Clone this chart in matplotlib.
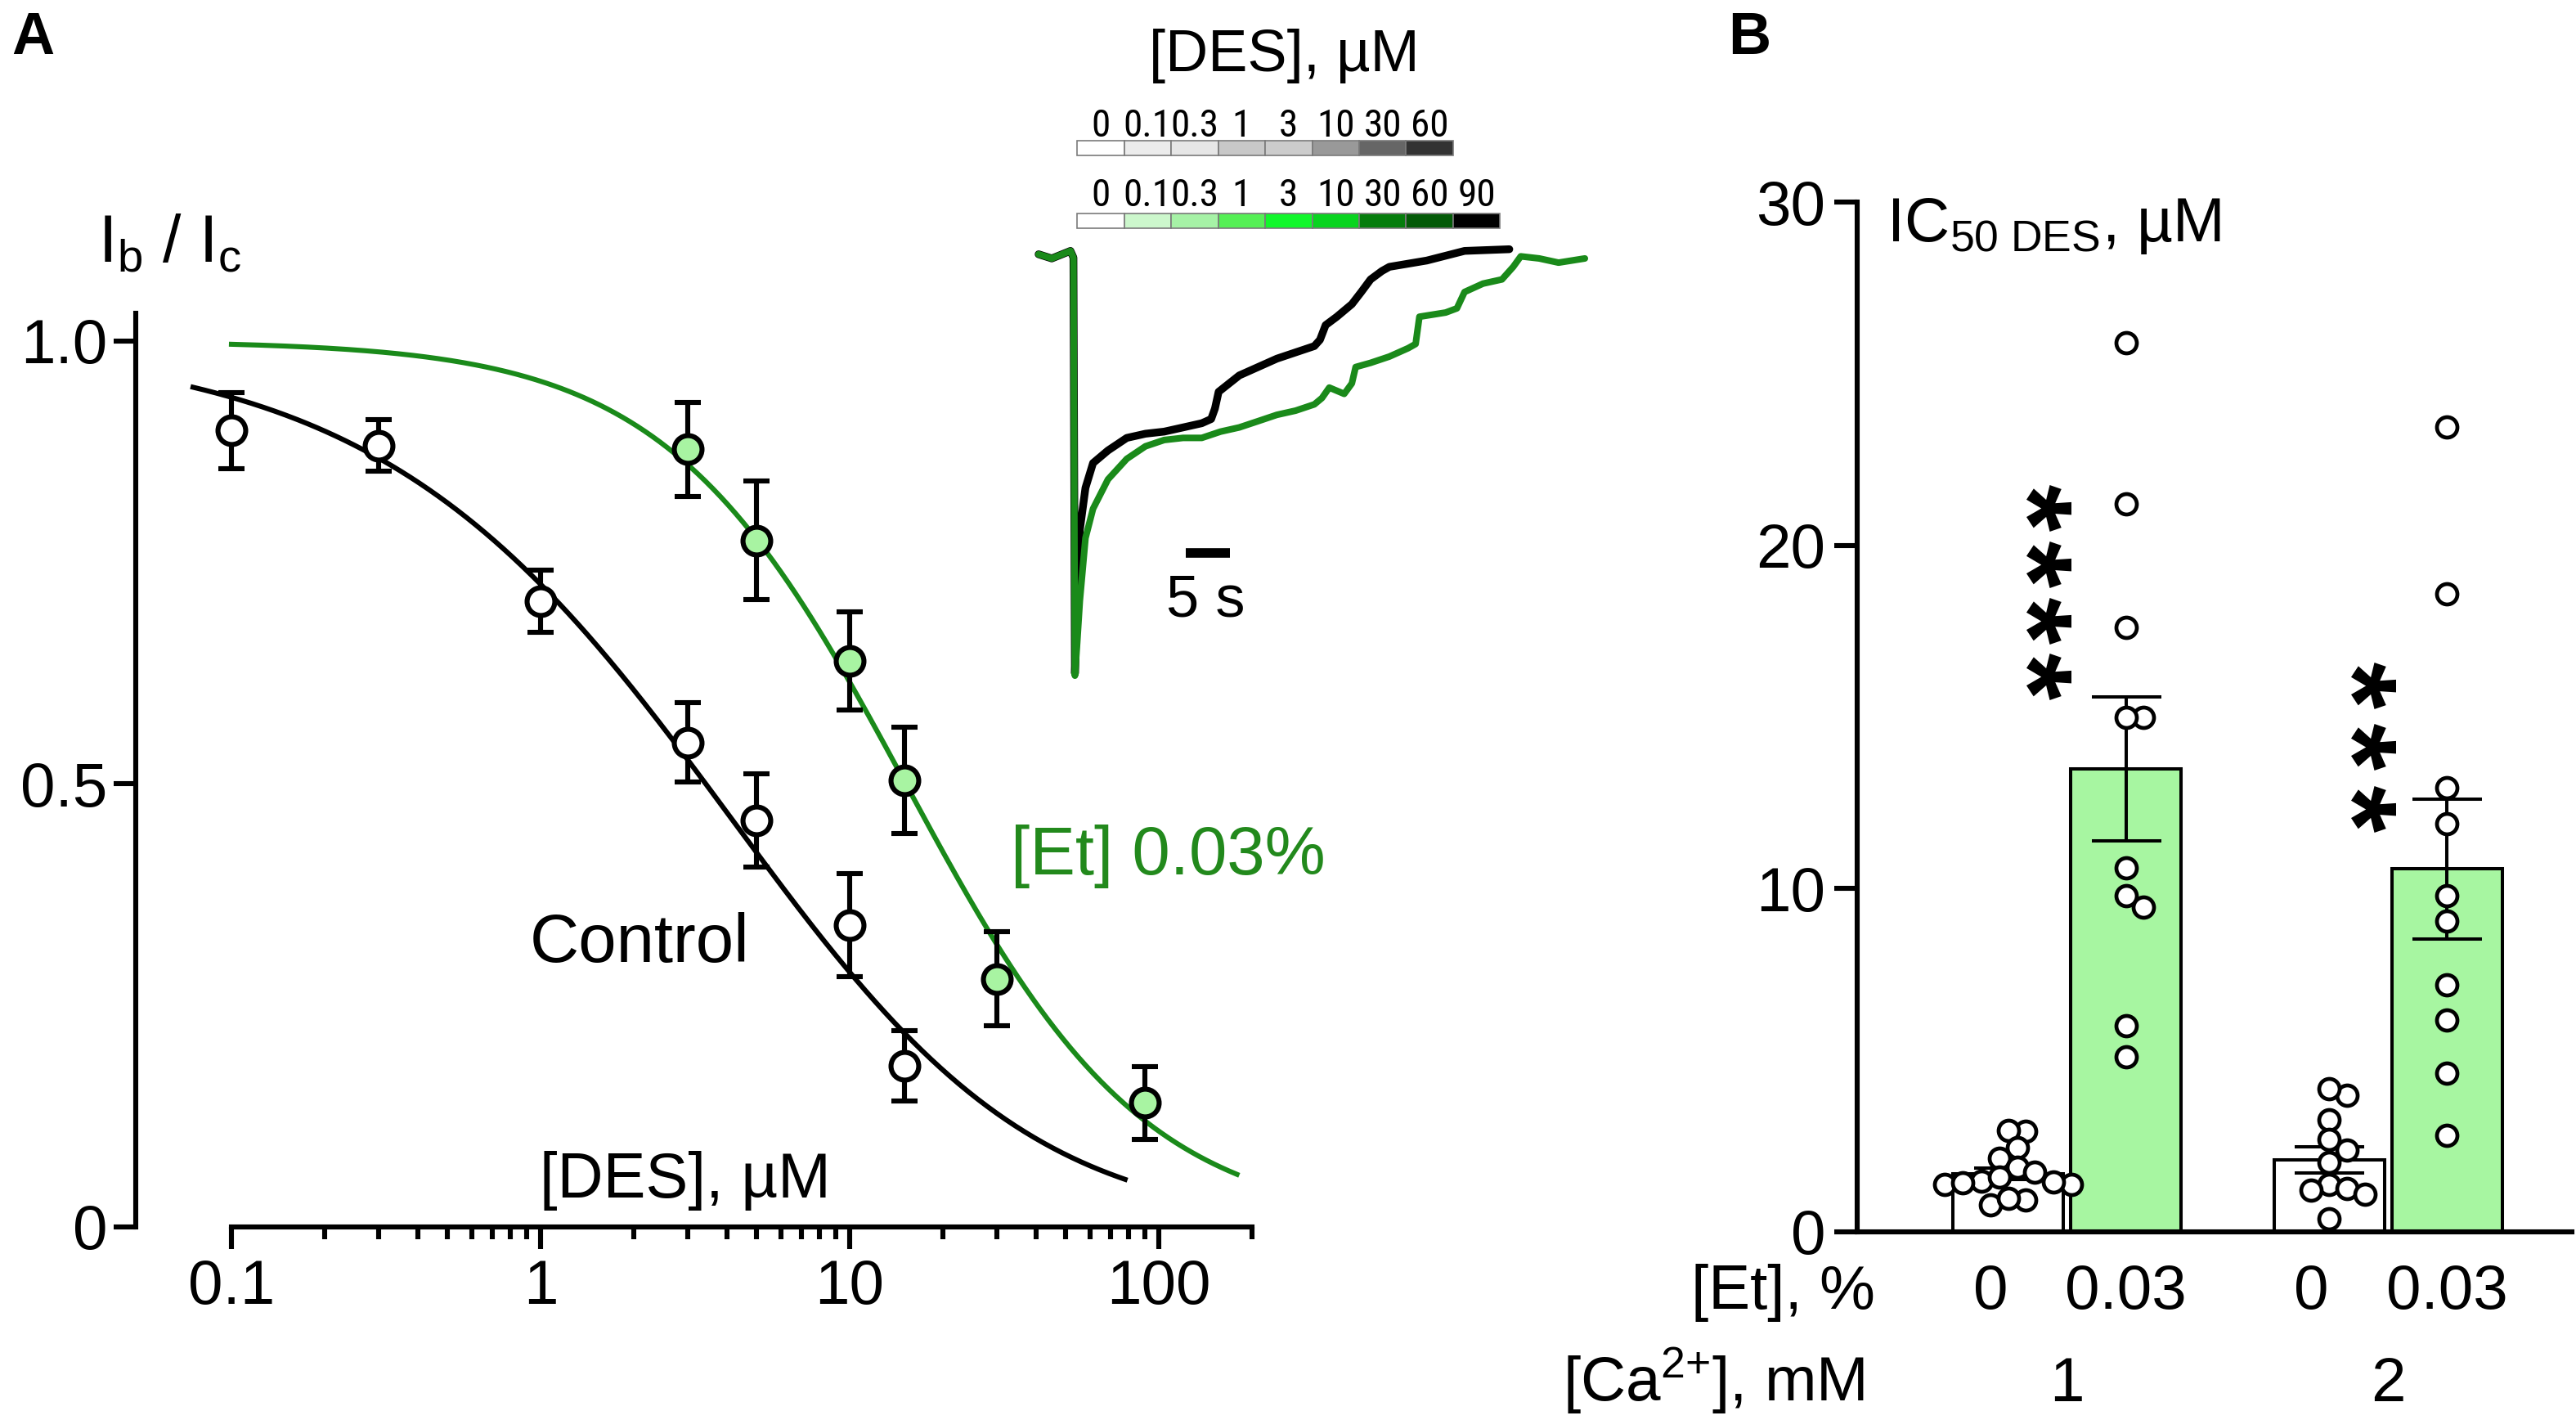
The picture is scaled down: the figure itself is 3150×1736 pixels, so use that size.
import os
import numpy as np
import matplotlib
matplotlib.use("Agg")
import matplotlib.pyplot as plt
import matplotlib.ticker as mticker
from matplotlib import font_manager as fm
from matplotlib.font_manager import FontProperties
from matplotlib.textpath import TextPath
from matplotlib.path import Path
from matplotlib.markers import MarkerStyle
from matplotlib.transforms import blended_transform_factory

# ----------------------------- DATA -----------------------------
# Panel A: concentration-response (Ib/Ic vs [DES], uM)
ctrl_conc = [0.1, 0.3, 1, 3, 5, 10, 15]
ctrl_resp = [0.899, 0.882, 0.706, 0.547, 0.459, 0.341, 0.182]
ctrl_err = [0.043, 0.029, 0.035, 0.045, 0.053, 0.058, 0.040]
et_conc = [3, 5, 10, 15, 30, 90]
et_resp = [0.878, 0.775, 0.639, 0.504, 0.280, 0.140]
et_err = [0.053, 0.067, 0.055, 0.060, 0.053, 0.041]

# fitted curves (parameters read from the drawn fits)
ctrl_K, ctrl_n, ctrl_m = 7.97, 0.725, 1.6
ctrl_range = [0.0751, 77.8]
et_K, et_n = 15.2, 1.12
et_range = [0.1, 179.0]

a_xticks = [0.1, 1, 10, 100]
a_xticklabels = ["0.1", "1", "10", "100"]
a_yticks = [0, 0.5, 1.0]
a_yticklabels = ["0", "0.5", "1.0"]

# Inset: application protocol and current traces
des_gray_labels = ["0", "0.1", "0.3", "1", "3", "10", "30", "60"]
des_green_labels = ["0", "0.1", "0.3", "1", "3", "10", "30", "60", "90"]
gray_colors = ["#ffffff", "#ececec", "#e6e6e6", "#c8c8c8", "#cccccc",
               "#999999", "#666666", "#333333"]
green_colors = ["#ffffff", "#ccf7cc", "#a6f2a6", "#55f055", "#11f72b",
                "#08d41f", "#057d0c", "#035a07", "#000000"]

black_t = [0, 1.5, 3.63, 3.97, 4.14, 4.40, 4.70, 5.34, 6.2, 7.9, 10.04, 12.17,
           14.3, 16.45, 18.58, 19.65, 20.08, 20.5, 22.85, 27.13, 31.4, 32.04,
           32.68, 33.96, 35.67, 36.74, 37.8, 39.09, 39.94, 44.2, 48.5, 53.6]
black_i = [0.005, -0.005, 0.013, -0.003, -0.995, -0.80, -0.652, -0.552, -0.493,
           -0.463, -0.433, -0.423, -0.418, -0.408, -0.398, -0.388, -0.363,
           -0.323, -0.284, -0.244, -0.214, -0.199, -0.164, -0.144, -0.114,
           -0.085, -0.055, -0.035, -0.025, -0.010, 0.013, 0.017]
green_t = [0, 1.5, 3.63, 3.97, 4.14, 4.40, 4.70, 5.34, 6.2, 7.9, 10.04, 12.17,
           14.3, 16.45, 18.58, 20.72, 22.85, 25.0, 27.13, 29.26, 31.4, 32.26,
           33.1, 34.8, 35.67, 36.1, 37.8, 39.94, 42.08, 42.93, 43.36, 46.35,
           47.63, 48.5, 50.6, 52.76, 54.04, 54.9, 57.0, 59.2, 62.2]
green_i = [0.005, -0.005, 0.013, -0.003, -1.0, -0.92, -0.821, -0.672, -0.602,
           -0.532, -0.483, -0.453, -0.438, -0.433, -0.433, -0.418, -0.408,
           -0.393, -0.378, -0.368, -0.353, -0.338, -0.313, -0.328, -0.303,
           -0.264, -0.254, -0.239, -0.219, -0.209, -0.144, -0.134, -0.124,
           -0.085, -0.065, -0.055, -0.025, 0.0, -0.005, -0.015, -0.005]
scale_bar_s = 5

# Panel B: IC50 of DES (uM)
et_row_labels = ["0", "0.03", "0", "0.03"]
ca_group_labels = ["1", "2"]
bar_means = [1.70, 13.49, 2.10, 10.57]
bar_sem = [0.17, 2.10, 0.38, 2.04]
pts_ca1_et0 = [2.93, 2.96, 2.46, 2.15, 1.89, 1.75, 1.38, 1.38, 1.45, 1.48,
               1.59, 1.44, 0.78, 0.94, 0.98]
pts_ca1_et3 = [25.9, 21.2, 17.6, 15.0, 15.0, 10.6, 9.8, 9.45, 6.0, 5.1]
pts_ca2_et0 = [3.97, 4.18, 3.26, 2.70, 2.38, 2.03, 1.38, 1.22, 1.27, 1.10, 0.37]
pts_ca2_et3 = [23.45, 18.58, 12.95, 11.88, 9.8, 9.05, 7.19, 6.18, 4.62, 2.8]
star_counts = [4, 3]
b_yticks = [0, 10, 20, 30]

# ----------------------------- STYLE -----------------------------
def has_font(name):
    try:
        fm.findfont(FontProperties(family=name), fallback_to_default=False)
        return True
    except Exception:
        return False


def find_condensed():
    # look for an installed narrow / condensed sans face
    for fam in ["Liberation Sans Narrow", "Roboto Condensed",
                "Noto Sans Condensed", "Open Sans Condensed"]:
        if has_font(fam):
            return FontProperties(family=fam)
    for fam in ["Noto Sans", "Roboto", "Open Sans"]:
        for st in ["condensed", "semi-condensed"]:
            try:
                fp = FontProperties(family=fam, stretch=st)
                f = fm.findfont(fp, fallback_to_default=False)
                name = os.path.basename(f).lower()
                if "condensed" in name or "narrow" in name:
                    return FontProperties(fname=f)
            except Exception:
                pass
    return None


MAIN = "Liberation Sans" if has_font("Liberation Sans") else "DejaVu Sans"
COND = find_condensed()

plt.rcParams["font.family"] = [MAIN, "DejaVu Sans"]
plt.rcParams["mathtext.fontset"] = "custom"
plt.rcParams["mathtext.rm"] = MAIN
plt.rcParams["mathtext.it"] = MAIN + ":italic"
plt.rcParams["mathtext.bf"] = MAIN + ":bold"

GREEN_LINE = "#1a8a1a"
GREEN_TEXT = "#22891c"
GREEN_FILL = "#a8f4a2"
BAR_GREEN = "#a7f6a1"

W, H = 3150, 1736
DPI = 200
fig = plt.figure(figsize=(W / DPI, H / DPI), dpi=DPI)
fig.patch.set_facecolor("white")


def px_box(x0, y_top, x1, y_bot):
    return [x0 / W, 1 - y_bot / H, (x1 - x0) / W, (y_bot - y_top) / H]


def tight_label(s):
    # condensed numeric labels: pull the decimal point in
    if "." in s:
        a, b = s.split(".")
        return (r"$\mathregular{" + a + r"\hspace{-0.18}.\hspace{-0.18}"
                + b + "}$")
    return s


# ----------------------------- PANEL A -----------------------------
x0_px, dec_px = 283.0, 378.0
xmax = 200.0
y0_px, y1_px = 1500.0, 417.0
ytop = 1.05
axA = fig.add_axes(px_box(x0_px, y0_px - ytop * (y0_px - y1_px),
                          x0_px + dec_px * np.log10(xmax / 0.1), y0_px))
axA.set_xscale("log")
axA.set_xlim(0.1, xmax)
axA.set_ylim(0, ytop)
axA.patch.set_alpha(0)
for s in ["top", "right"]:
    axA.spines[s].set_visible(False)
axA.spines["left"].set_position(("outward", 117 * 72 / DPI))
axA.spines["left"].set_bounds(0, 1.031)
axA.spines["bottom"].set_bounds(0.1, xmax)
for s in ["left", "bottom"]:
    axA.spines[s].set_linewidth(2.2)

axA.set_xticks(a_xticks)
axA.set_xticklabels(a_xticklabels)
axA.xaxis.set_minor_locator(mticker.FixedLocator(
    [m * d for d in [0.1, 1, 10] for m in range(2, 10)] + [200]))
axA.xaxis.set_minor_formatter(mticker.NullFormatter())
axA.set_yticks(a_yticks)
axA.set_yticklabels(a_yticklabels)
axA.tick_params(axis="both", which="major", length=9.7, width=2.2,
                labelsize=27.5, direction="out")
axA.tick_params(axis="x", which="major", pad=4.5)
axA.tick_params(axis="y", which="major", pad=2.9)
axA.tick_params(axis="x", which="minor", length=5.4, width=2.2)

xc = np.geomspace(ctrl_range[0], ctrl_range[1], 400)
yc = (1 + (xc / ctrl_K) ** ctrl_n) ** (-ctrl_m)
axA.plot(xc, yc, color="black", lw=2.2, clip_on=False, zorder=2)
xe = np.geomspace(et_range[0], et_range[1], 400)
ye = 1 / (1 + (xe / et_K) ** et_n)
axA.plot(xe, ye, color=GREEN_LINE, lw=2.2, clip_on=False, zorder=2)

axA.errorbar(ctrl_conc, ctrl_resp, yerr=ctrl_err, fmt="o", ms=12.2, mew=2.2,
             mfc="white", mec="black", ecolor="black", elinewidth=2.2,
             capsize=5.8, capthick=2.2, clip_on=False, zorder=3)
axA.errorbar(et_conc, et_resp, yerr=et_err, fmt="o", ms=12.2, mew=2.2,
             mfc=GREEN_FILL, mec="black", ecolor="black", elinewidth=2.2,
             capsize=5.8, capthick=2.2, clip_on=False, zorder=3)

axA.text(2.096, 0.299, "Control", fontsize=30, ha="center", va="baseline")
axA.text(107, 0.398, "[Et] 0.03%", fontsize=30, ha="center", va="baseline",
         color=GREEN_TEXT)
axA.text(2.94, 0.033, "[DES], µM", fontsize=28, ha="center", va="baseline")
fig.text(120 / W, 1 - 321 / H, r"I$_\mathregular{b}$ / I$_\mathregular{c}$",
         fontsize=29, ha="left", va="baseline")
fig.text(14 / W, 1 - 66 / H, "A", fontsize=26, fontweight="bold",
         ha="left", va="baseline")

# ----------------------------- INSET -----------------------------
t_px0, px_per_s = 1270.0, 10.74
i0_px, i1_px = 313.4, 826.0
t_max = 62.5
i_lo, i_hi = -1.02, 0.05
axI = fig.add_axes(px_box(t_px0, i0_px - i_hi * (i1_px - i0_px),
                          t_px0 + t_max * px_per_s,
                          i0_px - i_lo * (i1_px - i0_px)))
axI.set_xlim(0, t_max)
axI.set_ylim(i_lo, i_hi)
axI.axis("off")
axI.plot(black_t, black_i, color="black", lw=3.4, solid_joinstyle="round",
         solid_capstyle="round", clip_on=False)
axI.plot(green_t, green_i, color=GREEN_LINE, lw=2.9, solid_joinstyle="round",
         solid_capstyle="round", clip_on=False)
axI.plot([16.8, 16.8 + scale_bar_s], [-0.707, -0.707], color="black", lw=4.2,
         solid_capstyle="butt")
axI.text(16.8 + scale_bar_s / 2 - 0.3, -0.858, f"{scale_bar_s} s", fontsize=26,
         ha="center", va="baseline")

seg_px = 57.5
c_left, c_top, c_bot = 1317.0, 171.7, 279.3
axC = fig.add_axes(px_box(c_left, c_top, c_left + 9 * seg_px, c_bot))
axC.set_xlim(0, 9)
axC.set_ylim(0, c_bot - c_top)
axC.axis("off")
gray_y0, gray_h = c_bot - 190.0, 18.3
green_y0, green_h = 0.0, 18.6
axC.bar(np.arange(len(gray_colors)) + 0.5, [gray_h] * len(gray_colors),
        bottom=gray_y0, width=1.0, color=gray_colors, edgecolor="#7a7a7a",
        linewidth=0.6, clip_on=False)
axC.bar(np.arange(len(green_colors)) + 0.5, [green_h] * len(green_colors),
        bottom=green_y0, width=1.0, color=green_colors, edgecolor="#7a7a7a",
        linewidth=0.6, clip_on=False)

if COND is not None:
    lab_kw = dict(fontproperties=COND.copy())
    lab_kw["fontproperties"].set_size(17)
else:
    lab_kw = dict(fontsize=15)
for i, lab in enumerate(des_gray_labels):
    axC.text(i + 0.5, c_bot - 166.7, lab, ha="center",
             va="baseline", clip_on=False, **lab_kw)
for i, lab in enumerate(des_green_labels):
    axC.text(i + 0.5, c_bot - 251.7, lab, ha="center",
             va="baseline", clip_on=False, **lab_kw)
fig.text(1570 / W, 1 - 86.7 / H, "[DES], µM", fontsize=26, ha="center",
         va="baseline")

# ----------------------------- PANEL B -----------------------------
bar_pos = [0.0, 1.0, 2.726, 3.726]
bar_w = 0.9375
b_x0_px, b_unit_px = 2455.5, 144.0
b_left_px, b_right_px = 2271.0, 3145.0
b_y0_px, b_y30_px = 1506.0, 247.0
axB = fig.add_axes(px_box(b_left_px, b_y30_px, b_right_px, b_y0_px))
axB.set_xlim((b_left_px - b_x0_px) / b_unit_px,
             (b_right_px - b_x0_px) / b_unit_px)
axB.set_ylim(0, 30)
axB.patch.set_alpha(0)
for s in ["top", "right"]:
    axB.spines[s].set_visible(False)
for s in ["left", "bottom"]:
    axB.spines[s].set_linewidth(2.2)
    axB.spines[s].set_zorder(5)
axB.set_xticks([])
axB.set_yticks(b_yticks)
axB.set_yticklabels([str(v) for v in b_yticks])
axB.tick_params(axis="y", length=10, width=2.2, labelsize=27.5, pad=4)

bar_colors = ["white", BAR_GREEN, "white", BAR_GREEN]
axB.bar(bar_pos, bar_means, width=bar_w, color=bar_colors, edgecolor="black",
        linewidth=1.45, zorder=2)
axB.errorbar(bar_pos, bar_means, yerr=bar_sem, fmt="none", ecolor="black",
             elinewidth=1.45, capsize=15.3, capthick=1.45, zorder=3)


def swarm_x(ax, xc, vals, min_dist_px, step_px):
    T = ax.transData
    inv = T.inverted()
    cx = T.transform((xc, 0))[0]
    placed = []
    out = [xc] * len(vals)
    for i in np.argsort(vals)[::-1]:
        py = T.transform((xc, vals[i]))[1]
        chosen = cx
        for k in range(0, 60):
            cands = [0] if k == 0 else [k, -k]
            found = False
            for s in cands:
                px = cx + s * step_px
                if all(np.hypot(px - qx, py - qy) >= min_dist_px
                       for qx, qy in placed):
                    chosen = px
                    found = True
                    break
            if found:
                break
        placed.append((chosen, py))
        out[i] = inv.transform((chosen, py))[0]
    return out


point_sets = [pts_ca1_et0, pts_ca1_et3, pts_ca2_et0, pts_ca2_et3]
for pos, vals in zip(bar_pos, point_sets):
    xs = swarm_x(axB, pos, vals, min_dist_px=22.0, step_px=11.0)
    axB.plot(xs, vals, linestyle="none", marker="o", ms=9, mew=1.7,
             mfc="white", mec="black", zorder=4, clip_on=False)

# significance asterisks: bold '*' glyph, rotated, centred on its outline
tp = TextPath((0, 0), "*", prop=FontProperties(family=MAIN, weight="bold"),
              size=100)
verts = tp.vertices.copy()
codes = tp.codes.copy()
start = 0
for i, c in enumerate(codes):
    if c == Path.MOVETO:
        start = i
    elif c == Path.CLOSEPOLY:
        verts[i] = verts[start]
verts -= (verts.min(axis=0) + verts.max(axis=0)) / 2
v_rot = np.column_stack([verts[:, 1], -verts[:, 0]])
star_marker = MarkerStyle(Path(v_rot, codes))
star_x = [0.344, 3.103]
star_y0 = [16.17, 12.32]
star_step = [1.64, 1.80]
for sx, sy, st, n in zip(star_x, star_y0, star_step, star_counts):
    ys = [sy + k * st for k in range(n)]
    axB.plot([sx] * n, ys, linestyle="none", marker=star_marker, ms=20.5,
             color="black", mec="none", zorder=4, clip_on=False)

fig.text(2307 / W, 1 - 295 / H, r"IC$_\mathregular{50\ DES}$, µM",
         fontsize=27.5, ha="left", va="baseline")

tb = blended_transform_factory(axB.transData, fig.transFigure)
et_shift = [-0.15, 0.0, -0.15, 0.0]
for pos, lab, sh in zip(bar_pos, et_row_labels, et_shift):
    axB.text(pos + sh, 1 - 1600 / H, lab, transform=tb, fontsize=27.5,
             ha="center", va="baseline", clip_on=False)
group_centers = [(bar_pos[0] + bar_pos[1]) / 2, (bar_pos[2] + bar_pos[3]) / 2]
for gc, lab in zip(group_centers, ca_group_labels):
    axB.text(gc, 1 - 1713 / H, lab, transform=tb, fontsize=27.5,
             ha="center", va="baseline", clip_on=False)
fig.text(2293 / W, 1 - 1600 / H, "[Et], %", fontsize=27.5, ha="right",
         va="baseline")
fig.text(2280 / W, 1 - 1713 / H, r"[Ca$^\mathregular{2{+}}$], mM",
         fontsize=27.5, ha="right", va="baseline")
fig.text(2113 / W, 1 - 66 / H, "B", fontsize=26, fontweight="bold",
         ha="left", va="baseline")

fig.savefig("out.png", dpi=DPI, facecolor="white")
